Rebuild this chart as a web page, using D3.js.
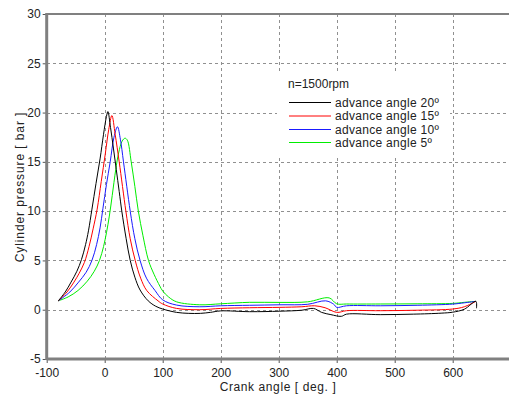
<!DOCTYPE html>
<html><head><meta charset="utf-8">
<script src="https://d3js.org/d3.v7.min.js"></script>
<style>
html,body{margin:0;padding:0;background:#fff;}
svg{display:block;font-family:"Liberation Sans",Arial,sans-serif;}
</style></head>
<body>
<svg id="chart" width="509" height="399"></svg>
<script>
// ---- data ----
const xTicks = [-100, 0, 100, 200, 300, 400, 500, 600];
const yTicks = [-5, 0, 5, 10, 15, 20, 25, 30];
const legendTitle = "n=1500rpm";
const seriesNames = ["advance  angle  20º", "advance  angle  15º", "advance  angle  10º", "advance  angle  5º"];
const seriesColors = ["#000000", "#ff0000", "#1a1aff", "#00ee00"];

const angle20 = [[-80,0.9],[-68,1.8],[-58,2.8],[-48,3.9],[-40,5.1],[-33,6.6],[-28,8],[-22,10.2],[-15,12.8],[-8,15.3],[-2,17.8],[3,19.6],[5.5,20.1],[10,18.5],[15,16.4],[20,14.2],[25,12],[29.5,10],[37,7.2],[44,5],[52,3.3],[61,2.0],[75,0.9],[88,0.35],[100,0.07],[124,-0.27],[145,-0.37],[165,-0.37],[182,-0.27],[200,-0.12],[250,-0.2],[302,-0.15],[340,-0.05],[360,0.13],[374,-0.27],[390,-0.5],[408,-0.67],[417,-0.45],[475,-0.5],[532,-0.45],[580,-0.35],[600,-0.25],[620,0.05],[640,0.85],[641,0.15]];
const angle15 = [[-80,0.9],[-65,1.8],[-53,2.8],[-44,3.7],[-35,4.8],[-27,6.4],[-20,8.2],[-13,10.2],[-6,13],[1,15.8],[7,18.3],[12.4,19.7],[18,17.8],[25,15],[36.5,10],[44,7.2],[52.6,5],[62,3.2],[72.7,1.93],[92,0.9],[100,0.58],[124,0.13],[164,0],[200,0.13],[250,0.2],[302,0.24],[340,0.3],[362,0.4],[380,0.2],[400,-0.27],[417,-0.1],[475,-0.1],[540,-0.05],[600,0.07],[620,0.3],[640,0.85]];
const angle10 = [[-80,0.9],[-60,1.8],[-45,2.8],[-32,3.8],[-22,5],[-14,6.6],[-8,8.3],[-3,10.3],[3,12.7],[9.5,15],[16,17.5],[22,18.56],[27,17.3],[32.4,15],[44,10],[52,7.2],[61,5],[72,3.2],[87,1.93],[100,1.0],[124,0.47],[164,0.3],[200,0.4],[250,0.45],[302,0.5],[350,0.55],[381,0.9],[395,0.55],[400,0.24],[417,0.4],[475,0.4],[540,0.45],[600,0.57],[620,0.7],[640,0.85]];
const angle5 = [[-80,0.9],[-63,1.3],[-46,1.95],[-30,2.9],[-18,3.9],[-9,5.0],[-2,6.4],[3,7.8],[8,9.5],[13,11.6],[19,14.2],[24,15.9],[30,17.1],[35,17.4],[39,17.2],[45.7,15],[52,12.5],[58,10],[66,7.5],[75.5,5],[85,3.6],[95,2.4],[100,1.9],[110,1.3],[124,0.8],[164,0.5],[200,0.6],[250,0.75],[302,0.74],[350,0.8],[387,1.2],[400,0.6],[417,0.58],[475,0.58],[540,0.6],[600,0.64],[620,0.75],[640,0.85]];
const allSeries = [angle20, angle15, angle10, angle5];

// ---- layout ----
const svg = d3.select("#chart");
const pLeft = 46.7, pRight = 510.7, pTop = 14, pBottom = 359;
const x = d3.scaleLinear().domain([-100, 700]).range([pLeft, pRight]);
const y = d3.scaleLinear().domain([-5, 30]).range([pBottom, pTop]);

// grid
const grid = svg.append("g").attr("stroke", "#909090").attr("stroke-width", 1).attr("stroke-dasharray", "3,3").attr("shape-rendering", "crispEdges");
grid.selectAll(".gx").data(xTicks.filter(d => d > -100)).join("line")
  .attr("x1", d => Math.round(x(d)) + 0.5).attr("x2", d => Math.round(x(d)) + 0.5)
  .attr("y1", pTop).attr("y2", pBottom);
grid.selectAll(".gy").data(yTicks.filter(d => d > -5 && d < 30)).join("line")
  .attr("y1", d => Math.round(y(d)) + 0.5).attr("y2", d => Math.round(y(d)) + 0.5)
  .attr("x1", pLeft).attr("x2", 509);

// legend background (covers grid)
const lg = svg.append("g");
lg.append("rect").attr("x", 277).attr("y", 72).attr("width", 173).attr("height", 84).attr("fill", "#fff");

// series
const line = d3.line().x(d => x(d[0])).y(d => y(d[1])).curve(d3.curveCatmullRom.alpha(0.5));
svg.append("g").selectAll("path").data(allSeries.slice().reverse()).join("path")
  .attr("d", line).attr("fill", "none")
  .attr("stroke", (d, i) => seriesColors[3 - i]).attr("stroke-width", 1);

// axes
const axisColor = "#808080";
const yAxis = svg.append("g").attr("transform", `translate(${pLeft},0)`)
  .call(d3.axisLeft(y).tickValues(yTicks).tickSize(4).tickPadding(2).tickFormat(d => String(d)));
const xAxis = svg.append("g").attr("transform", `translate(0,${pBottom})`)
  .call(d3.axisBottom(x).tickValues(xTicks).tickSize(4).tickPadding(5).tickFormat(d => String(d)));
[yAxis, xAxis].forEach(a => {
  a.select(".domain").remove();
  a.selectAll(".tick line").attr("stroke", "#555");
  a.selectAll(".tick text").attr("fill", "#222").style("font-size", "12px").style("font-family", "'Liberation Sans',Arial,sans-serif");
});
// axis frame lines
svg.append("line").attr("x1", pLeft).attr("x2", pLeft).attr("y1", pTop - 1).attr("y2", pBottom + 1)
  .attr("stroke", axisColor).attr("stroke-width", 3);
svg.append("line").attr("x1", pLeft).attr("x2", 509).attr("y1", pBottom).attr("y2", pBottom)
  .attr("stroke", axisColor).attr("stroke-width", 3);
svg.append("line").attr("x1", pLeft).attr("x2", 509).attr("y1", pTop).attr("y2", pTop)
  .attr("stroke", axisColor).attr("stroke-width", 2);

// axis titles
svg.append("text").attr("transform", "translate(24,187) rotate(-90)")
  .attr("text-anchor", "middle").attr("fill", "#222").style("font-size", "12px").style("letter-spacing", "0.9px")
  .text("Cylinder pressure  [ bar ]");
svg.append("text").attr("x", 278).attr("y", 391)
  .attr("text-anchor", "middle").attr("fill", "#222").style("font-size", "12px").style("letter-spacing", "0.6px")
  .text("Crank angle  [ deg. ]");

// legend
lg.append("text").attr("x", 288).attr("y", 88).attr("fill", "#222").style("font-size", "12px").text(legendTitle);
const ly = [102.5, 116, 129.5, 142.5];
seriesNames.forEach((n, i) => {
  lg.append("line").attr("x1", 289).attr("x2", 331).attr("y1", ly[i]).attr("y2", ly[i])
    .attr("stroke", seriesColors[i]).attr("stroke-width", 1);
  lg.append("text").attr("x", 335).attr("y", ly[i] + 4).attr("fill", "#222").style("font-size", "12px").style("letter-spacing", "0.3px").text(n);
});
</script>
</body></html>
